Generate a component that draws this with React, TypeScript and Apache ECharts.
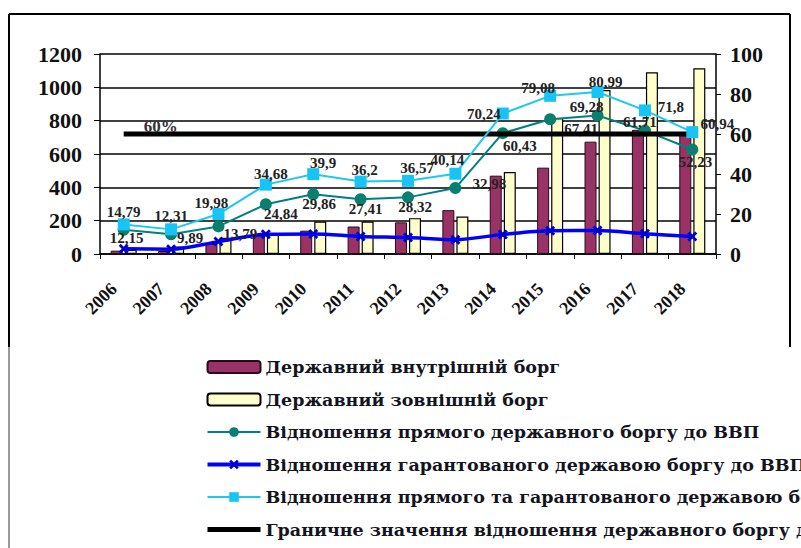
import React, { useEffect, useRef } from "react";
import * as echarts from "echarts";

const years = ["2006", "2007", "2008", "2009", "2010", "2011", "2012", "2013", "2014", "2015", "2016", "2017", "2018"];
const domesticDebt = [20, 18, 60, 110, 140, 165, 190, 263, 470, 518, 674, 745, 715];
const externalDebt = [25, 45, 97, 125, 195, 195, 215, 225, 492, 816, 984, 1090, 1114];
const directDebtRatio = [12.15, 9.89, 13.79, 24.84, 29.86, 27.41, 28.32, 32.98, 60.43, 67.41, 69.28, 61.71, 52.23];
const guaranteedDebtRatio = [2.64, 2.42, 6.19, 9.84, 10.04, 8.79, 8.25, 7.16, 9.81, 11.67, 11.71, 10.09, 8.71];
const totalDebtRatio = [14.79, 12.31, 19.98, 34.68, 39.9, 36.2, 36.57, 40.14, 70.24, 79.08, 80.99, 71.8, 60.94];
const thresholdRatio = [60, 60, 60, 60, 60, 60, 60, 60, 60, 60, 60, 60, 60];
const thresholdLabel = "60%";

const seriesNames = [
  "Державний внутрішній борг",
  "Державний зовнішній борг",
  "Відношення прямого державного боргу до ВВП",
  "Відношення гарантованого державою боргу до ВВП",
  "Відношення прямого та гарантованого державою боргу до ВВП",
  "Граничне значення відношення державного боргу до ВВП",
];

// label offsets (style only)
const totalLabelOffsets = [
  [0, -12], [0, -13], [-7, -11], [5, -11], [10, -11], [4, -12], [9, -13],
  [-8, -14], [-19, 0], [-12, -8], [8, -10], [26, -3], [25, -8],
];
const directLabelOffsets = [
  [3, 8], [19, 4], [22, 8], [15, 10], [6, 10], [5, 10], [7, 10],
  [34, -4], [17, 13], [31, 10], [-11, -8], [-5, -9], [3, 12],
];

const SERIF = "Liberation Serif";
const LEGEND_FONT = "DejaVu Serif";
const fmt = (p: any) => String(p.value).replace(".", ",");
const crossPath =
  "path://M2,0 L5,3 L8,0 L10,2 L7,5 L10,8 L8,10 L5,7 L2,10 L0,8 L3,5 L0,2 Z";

const frameLines = [
  { type: "line", shape: { x1: 9, y1: 14, x2: 790, y2: 14 }, style: { stroke: "#000", lineWidth: 2 } },
  { type: "line", shape: { x1: 9, y1: 14, x2: 9, y2: 347 }, style: { stroke: "#000", lineWidth: 2 } },
  { type: "line", shape: { x1: 9, y1: 347, x2: 9, y2: 548 }, style: { stroke: "#777", lineWidth: 1.5 } },
  { type: "line", shape: { x1: 790, y1: 14, x2: 790, y2: 347 }, style: { stroke: "#000", lineWidth: 2 } },
];

export default function App() {
  const ref = useRef<HTMLDivElement>(null);
  useEffect(() => {
    if (!ref.current) return;
    const chart = echarts.init(ref.current, null, { renderer: "svg" });
    const labelStyle = {
      show: true,
      position: "inside",
      fontFamily: SERIF,
      fontWeight: "bold",
      fontSize: 15,
      color: "#222",
      formatter: fmt,
    };
    chart.setOption({
      animation: false,
      backgroundColor: "#fff",
      textStyle: { fontFamily: SERIF },
      grid: { left: 100, right: 85, top: 54, bottom: 294 },
      legend: {
        orient: "vertical",
        left: 205,
        top: 357,
        padding: 0,
        itemWidth: 53,
        itemHeight: 12,
        itemGap: 12.5,
        data: [
          { name: seriesNames[0] },
          { name: seriesNames[1] },
          { name: seriesNames[2], lineStyle: { width: 2 } },
          { name: seriesNames[3], lineStyle: { width: 4 } },
          { name: seriesNames[4], lineStyle: { width: 2 } },
          {
            name: seriesNames[5],
            lineStyle: { width: 5 },
            itemStyle: { color: "rgba(0,0,0,0)", borderWidth: 0, opacity: 0 },
          },
        ],
        textStyle: {
          fontFamily: LEGEND_FONT,
          fontWeight: "bold",
          fontSize: 17.5,
          lineHeight: 20,
          color: "#141420",
        },
      },
      xAxis: {
        type: "category",
        data: years,
        boundaryGap: true,
        axisLine: { lineStyle: { color: "#000", width: 1.5 } },
        axisTick: { show: true, length: 5, lineStyle: { color: "#000" } },
        axisLabel: {
          rotate: 45,
          interval: 0,
          margin: 22,
          padding: [0, 14, 0, 0],
          fontFamily: SERIF,
          fontWeight: "bold",
          fontSize: 18,
          color: "#111",
        },
      },
      yAxis: [
        {
          type: "value",
          min: 0,
          max: 1200,
          interval: 200,
          axisLine: { show: true, lineStyle: { color: "#000", width: 1.5 } },
          axisTick: { show: true, length: 6, lineStyle: { color: "#000" } },
          splitLine: { show: true, lineStyle: { color: "#000", width: 1.5 } },
          axisLabel: {
            margin: 18,
            formatter: (v: number) => String(v),
            fontFamily: SERIF,
            fontWeight: "bold",
            fontSize: 22,
            color: "#111",
          },
        },
        {
          type: "value",
          min: 0,
          max: 100,
          interval: 20,
          position: "right",
          axisLine: { show: true, lineStyle: { color: "#000", width: 1.5 } },
          axisTick: { show: true, length: 5, lineStyle: { color: "#000" } },
          splitLine: { show: false },
          axisLabel: {
            margin: 14,
            formatter: (v: number) => String(v),
            fontFamily: SERIF,
            fontWeight: "bold",
            fontSize: 22,
            color: "#111",
          },
        },
      ],
      series: [
        {
          name: seriesNames[0],
          type: "bar",
          yAxisIndex: 0,
          barWidth: 12,
          barGap: "17%",
          data: domesticDebt,
          itemStyle: { color: "#993366", borderColor: "#2a0a18", borderWidth: 1 },
        },
        {
          name: seriesNames[1],
          type: "bar",
          yAxisIndex: 0,
          barWidth: 12,
          data: externalDebt,
          itemStyle: { color: "#FFFFCC", borderColor: "#000", borderWidth: 1.2 },
        },
        {
          name: seriesNames[3],
          type: "line",
          yAxisIndex: 1,
          smooth: 0.3,
          symbol: crossPath,
          symbolSize: 10,
          data: guaranteedDebtRatio,
          lineStyle: { color: "#0000FF", width: 3.5 },
          itemStyle: { color: "#0000CC" },
          z: 3,
        },
        {
          name: seriesNames[2],
          type: "line",
          yAxisIndex: 1,
          symbol: "circle",
          symbolSize: 12,
          data: directDebtRatio.map((v, i) => ({
            value: v,
            label: { offset: directLabelOffsets[i] },
          })),
          lineStyle: { color: "#008080", width: 2 },
          itemStyle: { color: "#0A7F70" },
          label: labelStyle,
          z: 4,
        },
        {
          name: seriesNames[5],
          type: "line",
          yAxisIndex: 1,
          symbol: "none",
          data: thresholdRatio,
          lineStyle: { color: "#000", width: 5 },
          itemStyle: { color: "#000" },
          z: 5,
        },
        {
          name: seriesNames[4],
          type: "line",
          yAxisIndex: 1,
          symbol: "rect",
          symbolSize: 12,
          data: totalDebtRatio.map((v, i) => ({
            value: v,
            label: { offset: totalLabelOffsets[i] },
          })),
          lineStyle: { color: "#1EC8F0", width: 2 },
          itemStyle: { color: "#18C4F4" },
          label: labelStyle,
          z: 6,
        },
      ],
      graphic: frameLines,
    });
    const p = chart.convertToPixel({ xAxisIndex: 0, yAxisIndex: 1 }, [0, thresholdRatio[0]]) as number[];
    chart.setOption({
      graphic: [
        ...frameLines,
        {
          type: "text",
          x: p[0] + 37,
          y: p[1] - 8,
          z: 10,
          style: {
            text: thresholdLabel,
            x: 0,
            y: 0,
            align: "center",
            verticalAlign: "middle",
            font: `bold 17px '${SERIF}'`,
            fill: "#333",
          },
        },
      ],
    });
    return () => chart.dispose();
  }, []);
  return (
    <div
      ref={ref}
      style={{ position: "fixed", left: 0, top: 0, width: 801, height: 548, background: "#fff" }}
    />
  );
}
